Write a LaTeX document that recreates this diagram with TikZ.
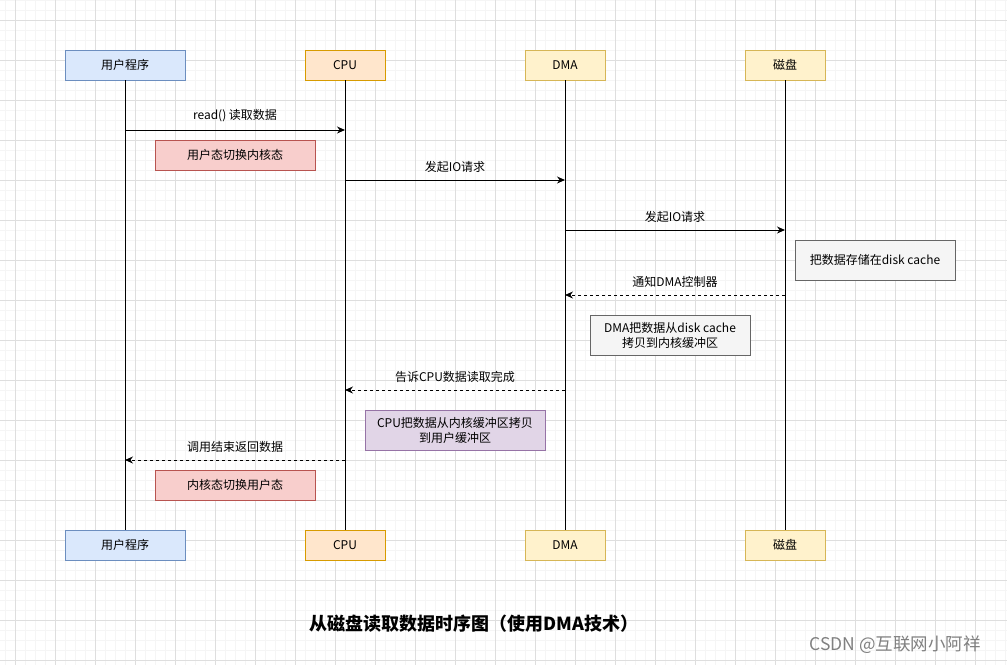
\documentclass[tikz,border=0pt]{standalone}
\usepackage{fontspec}
\setmainfont{Noto Sans CJK SC}
\usetikzlibrary{arrows.meta}
\definecolor{userfill}{HTML}{DAE8FC}
\definecolor{userline}{HTML}{6C8EBF}
\definecolor{cpufill}{HTML}{FFE6CC}
\definecolor{cpuline}{HTML}{D79B00}
\definecolor{devfill}{HTML}{FFF2CC}
\definecolor{devline}{HTML}{D6B656}
\definecolor{redfill}{HTML}{F8CECC}
\definecolor{redline}{HTML}{B85450}
\definecolor{grayfill}{HTML}{F5F5F5}
\definecolor{grayline}{HTML}{666666}
\definecolor{purpfill}{HTML}{E1D5E7}
\definecolor{purpline}{HTML}{9673A6}
\tikzset{
  actor/.style={draw, minimum width=80pt, minimum height=30pt, inner sep=0pt,
    font=\fontsize{12}{14}\selectfont},
  note/.style={draw, inner sep=0pt, align=center,
    font=\fontsize{12}{15}\selectfont},
  msg/.style={-{Stealth[length=8pt,width=7pt]}, line width=1pt},
  reply/.style={msg, dash pattern=on 3pt off 3pt},
  lbl/.style={font=\fontsize{12}{14}\selectfont},
}
\begin{document}
\begin{tikzpicture}[x=1pt, y=-1pt, >=stealth]
 \useasboundingbox (0,0) rectangle (1007,665);
 \fill[white] (0,0) rectangle (1007,665);
 % grid
 \foreach \x in {5,15,...,1005} \draw[black!4, line width=0.6pt] (\x,0) -- (\x,665);
 \foreach \y in {0,10,...,660} \draw[black!4, line width=0.6pt] (0,\y) -- (1007,\y);
 \foreach \x in {15,55,...,975} \draw[black!13, line width=0.8pt] (\x,0) -- (\x,665);
 \foreach \y in {20,60,...,660} \draw[black!13, line width=0.8pt] (0,\y) -- (1007,\y);

 % participants
 \node[actor, minimum width=120pt, fill=userfill, draw=userline] (user) at (125,65) {用户程序};
 \node[actor, fill=cpufill, draw=cpuline] (cpu) at (345,65) {CPU};
 \node[actor, fill=devfill, draw=devline] (dma) at (565,65) {DMA};
 \node[actor, fill=devfill, draw=devline] (disk) at (785,65) {磁盘};
 \node[actor, minimum width=120pt, fill=userfill, draw=userline] (userB) at (125,545) {用户程序};
 \node[actor, fill=cpufill, draw=cpuline] (cpuB) at (345,545) {CPU};
 \node[actor, fill=devfill, draw=devline] (dmaB) at (565,545) {DMA};
 \node[actor, fill=devfill, draw=devline] (diskB) at (785,545) {磁盘};

 % lifelines
 \draw[line width=1pt] (user) -- (userB);
 \draw[line width=1pt] (cpu) -- (cpuB);
 \draw[line width=1pt] (dma) -- (dmaB);
 \draw[line width=1pt] (disk) -- (diskB);

 % message points
 \coordinate (u1) at (125,130); \coordinate (c1) at (345,130);
 \coordinate (c2) at (345,180); \coordinate (d2) at (565,180);
 \coordinate (d3) at (565,230); \coordinate (k3) at (785,230);
 \coordinate (k4) at (785,295); \coordinate (d4) at (565,295);
 \coordinate (d5) at (565,390); \coordinate (c5) at (345,390);
 \coordinate (c6) at (345,460); \coordinate (u6) at (125,460);

 \draw[msg] (u1) -- (c1) node[lbl, midway, above=4pt] {read() 读取数据};
 \draw[msg] (c2) -- (d2) node[lbl, midway, above=4pt] {发起IO请求};
 \draw[msg] (d3) -- (k3) node[lbl, midway, above=4pt] {发起IO请求};
 \draw[reply] (k4) -- (d4) node[lbl, midway, above=4pt] {通知DMA控制器};
 \draw[reply] (d5) -- (c5) node[lbl, midway, above=4pt] {告诉CPU数据读取完成};
 \draw[reply] (c6) -- (u6) node[lbl, midway, above=4pt] {调用结束返回数据};

 % notes
 \node[note, fill=redfill, draw=redline, minimum width=160pt, minimum height=30pt] (tokernel) at (235,155) {用户态切换内核态};
 \node[note, fill=grayfill, draw=grayline, minimum width=160pt, minimum height=40pt] (store) at (875,260) {把数据存储在disk cache};
 \node[note, fill=grayfill, draw=grayline, minimum width=160pt, minimum height=40pt] (dmacopy) at (670,335) {DMA把数据从disk cache\\拷贝到内核缓冲区};
 \node[note, fill=purpfill, draw=purpline, minimum width=180pt, minimum height=40pt] (cpucopy) at (455,430) {CPU把数据从内核缓冲区拷贝\\到用户缓冲区};
 \node[note, fill=redfill, draw=redline, minimum width=160pt, minimum height=30pt] (touser) at (235,485) {内核态切换用户态};

 \node[font=\fontsize{18}{20}\selectfont\bfseries] (title) at (474,624) {从磁盘读取数据时序图（使用DMA技术）};
 \node[font=\fontsize{17.5}{20}\selectfont, text=black!50] (mark) at (895,645) {CSDN @互联网小阿祥};
\end{tikzpicture}
\end{document}
